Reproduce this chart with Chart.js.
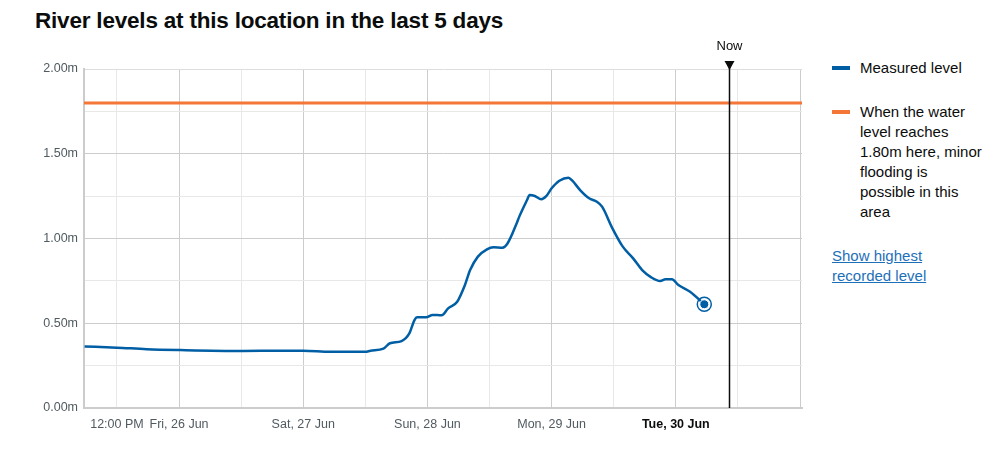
<!DOCTYPE html>
<html>
<head>
<meta charset="utf-8">
<script src="https://cdn.jsdelivr.net/npm/chart.js@4.4.0/dist/chart.umd.min.js"></script>
<style>
    body { margin: 0; background: #fff; font-family: "Liberation Sans", Arial, sans-serif; color: #0b0c0c; }
    h2 { position: absolute; left: 35px; top: 8px; margin: 0; font-size: 22.5px; font-weight: bold; letter-spacing: -0.2px; }
    #wrap { position: absolute; left: 0; top: 30px; width: 820px; height: 433px; }
    .key { position: absolute; left: 832px; width: 160px; font-size: 15px; line-height: 20px; }
    .key .dash { position: absolute; left: 0; top: 8px; width: 18px; height: 4px; }
    .key .txt { margin-left: 28px; width: 126px; }
    .link { position: absolute; left: 832px; top: 246px; font-size: 15px; line-height: 20px; color: #1d70b8; text-decoration: underline; }
</style>
</head>
<body>
<h2>River levels at this location in the last 5 days</h2>
<div id="wrap"><canvas id="levels"></canvas></div>

<div class="key" style="top:58px"><span class="dash" style="background:#005ea5"></span><div class="txt">Measured level</div></div>
<div class="key" style="top:102px"><span class="dash" style="background:#f47738"></span><div class="txt">When the water level reaches 1.80m here, minor flooding is possible in this area</div></div>
<div class="link">Show highest<br>recorded level</div>

<script>
// Readings (local time) and level in metres
const times = [
    '2020-06-25T05:45', '2020-06-25T12:00', '2020-06-25T17:45', '2020-06-26T00:15',
    '2020-06-26T12:15', '2020-06-26T19:30', '2020-06-27T00:00', '2020-06-27T05:15',
    '2020-06-27T12:00', '2020-06-27T13:00', '2020-06-27T15:30', '2020-06-27T16:45',
    '2020-06-27T19:00', '2020-06-27T20:30', '2020-06-27T21:30', '2020-06-27T22:00',
    '2020-06-27T23:45', '2020-06-28T01:00', '2020-06-28T02:45', '2020-06-28T04:00',
    '2020-06-28T05:45', '2020-06-28T07:15', '2020-06-28T08:15', '2020-06-28T09:45',
    '2020-06-28T11:30', '2020-06-28T12:45', '2020-06-28T14:30', '2020-06-28T15:30',
    '2020-06-28T17:15', '2020-06-28T17:45', '2020-06-28T19:15', '2020-06-28T19:45',
    '2020-06-28T20:45', '2020-06-28T22:00', '2020-06-28T23:00', '2020-06-29T00:00',
    '2020-06-29T01:30', '2020-06-29T03:15', '2020-06-29T04:00', '2020-06-29T05:30',
    '2020-06-29T07:15', '2020-06-29T08:45', '2020-06-29T09:45', '2020-06-29T11:45',
    '2020-06-29T13:45', '2020-06-29T15:45', '2020-06-29T17:30', '2020-06-29T19:15',
    '2020-06-29T21:00', '2020-06-29T22:00', '2020-06-29T23:15', '2020-06-30T00:30',
    '2020-06-30T02:45', '2020-06-30T05:30'
];
const levels = [
    0.363, 0.356, 0.347, 0.342,
    0.337, 0.338, 0.338, 0.332,
    0.332, 0.338, 0.350, 0.382,
    0.395, 0.440, 0.519, 0.535,
    0.535, 0.549, 0.547, 0.588,
    0.627, 0.726, 0.814, 0.893,
    0.936, 0.948, 0.946, 0.972,
    1.090, 1.129, 1.227, 1.257,
    1.251, 1.231, 1.251, 1.296,
    1.341, 1.359, 1.341, 1.286,
    1.237, 1.217, 1.188, 1.060,
    0.952, 0.883, 0.814, 0.771,
    0.749, 0.759, 0.759, 0.726,
    0.686, 0.612
];
const threshold = 1.80;
const axisStart = '2020-06-25T05:38';
const axisEnd = '2020-07-01T00:23';
const nowTime = '2020-06-30T10:17';
const yTicks = [0, 0.25, 0.5, 0.75, 1, 1.25, 1.5, 1.75, 2];

const ms = s => new Date(s).getTime();
const HOUR = 3600000;
const xMin = ms(axisStart), xMax = ms(axisEnd);
const firstNoon = ms('2020-06-25T12:00');
const today = ms('2020-06-30T00:00');
const dayNames = ['Sun', 'Mon', 'Tue', 'Wed', 'Thu', 'Fri', 'Sat'];
const monNames = ['Jan', 'Feb', 'Mar', 'Apr', 'May', 'Jun', 'Jul', 'Aug', 'Sep', 'Oct', 'Nov', 'Dec'];

const measured = times.map((t, i) => ({ x: ms(t), y: levels[i] }));
const lastIdx = measured.length - 1;

const nowLine = {
    id: 'nowLine',
    afterDatasetsDraw(chart) {
        const { ctx, chartArea, scales } = chart;
        const x = Math.round(scales.x.getPixelForValue(ms(nowTime))) + 0.5;
        ctx.save();
        ctx.strokeStyle = '#0b0c0c';
        ctx.lineWidth = 1.5;
        ctx.beginPath();
        ctx.moveTo(x, chartArea.top - 4);
        ctx.lineTo(x, chartArea.bottom);
        ctx.stroke();
        ctx.fillStyle = '#0b0c0c';
        ctx.beginPath();
        ctx.moveTo(x - 5, chartArea.top - 8);
        ctx.lineTo(x + 5, chartArea.top - 8);
        ctx.lineTo(x, chartArea.top + 1);
        ctx.closePath();
        ctx.fill();
        ctx.font = '13px "Liberation Sans", Arial, sans-serif';
        ctx.textAlign = 'center';
        ctx.textBaseline = 'middle';
        ctx.fillText('Now', x, chartArea.top - 23);

        // ring round the latest reading
        const pt = chart.getDatasetMeta(0).data[lastIdx];
        ctx.strokeStyle = '#005ea5';
        ctx.lineWidth = 1.5;
        ctx.beginPath();
        ctx.arc(pt.x, pt.y, 7, 0, Math.PI * 2);
        ctx.stroke();
        ctx.restore();
    }
};

new Chart(document.getElementById('levels'), {
    type: 'line',
    data: {
        datasets: [
            {
                label: 'Measured level',
                data: measured,
                borderColor: '#005ea5',
                borderWidth: 2.5,
                cubicInterpolationMode: 'monotone',
                pointRadius: ctx => ctx.dataIndex === lastIdx ? 4.5 : 0,
                pointBackgroundColor: '#005ea5',
                pointBorderColor: '#ffffff',
                pointBorderWidth: 1,
                pointHoverRadius: 0
            },
            {
                label: 'Threshold',
                data: [{ x: xMin, y: threshold }, { x: xMax, y: threshold }],
                borderColor: '#f47738',
                borderWidth: 3,
                pointRadius: 0
            }
        ]
    },
    options: {
        responsive: true,
        maintainAspectRatio: false,
        animation: false,
        layout: { padding: { top: 39, right: 18, left: 0, bottom: 0 } },
        plugins: {
            legend: { display: false },
            tooltip: { enabled: false }
        },
        scales: {
            x: {
                type: 'linear',
                min: xMin,
                max: xMax,
                afterBuildTicks: scale => {
                    const ticks = [];
                    for (let v = firstNoon; v <= xMax; v += 12 * HOUR) ticks.push({ value: v });
                    scale.ticks = ticks;
                },
                afterFit: scale => { scale.height = 55; },
                grid: {
                    drawTicks: false,
                    color: ctx => {
                        if (!ctx.tick) return '#cccccc';
                        return new Date(ctx.tick.value).getHours() === 0 ? '#cccccc' : '#e8e8e8';
                    }
                },
                border: { color: '#cccccc', width: 2 },
                ticks: {
                    autoSkip: false,
                    maxRotation: 0,
                    padding: 9,
                    color: ctx => ctx.tick && ctx.tick.value === today ? '#0b0c0c' : '#505a5f',
                    font: ctx => ({
                        family: '"Liberation Sans", Arial, sans-serif',
                        size: 12.5,
                        weight: ctx.tick && ctx.tick.value === today ? 'bold' : 'normal'
                    }),
                    callback: value => {
                        const d = new Date(value);
                        if (value === firstNoon) return '12:00 PM';
                        if (d.getHours() !== 0 || value >= xMax - 24 * HOUR + HOUR) return '';
                        return dayNames[d.getDay()] + ', ' + d.getDate() + ' ' + monNames[d.getMonth()];
                    }
                }
            },
            y: {
                min: 0,
                max: 2,
                afterBuildTicks: scale => { scale.ticks = yTicks.map(v => ({ value: v })); },
                afterFit: scale => { scale.width = 84; },
                grid: {
                    drawTicks: false,
                    color: ctx => {
                        if (!ctx.tick) return '#cccccc';
                        const v = ctx.tick.value;
                        if (v === 2) return '#dddddd';
                        return Math.abs(v * 2 - Math.round(v * 2)) < 1e-6 ? '#cccccc' : '#e8e8e8';
                    }
                },
                border: { color: '#cccccc', width: 2 },
                ticks: {
                    padding: 6,
                    color: '#505a5f',
                    font: { family: '"Liberation Sans", Arial, sans-serif', size: 12.5 },
                    callback: v => Math.abs(v * 2 - Math.round(v * 2)) < 1e-6 ? v.toFixed(2) + 'm' : ''
                }
            }
        }
    },
    plugins: [nowLine]
});
</script>
</body>
</html>
